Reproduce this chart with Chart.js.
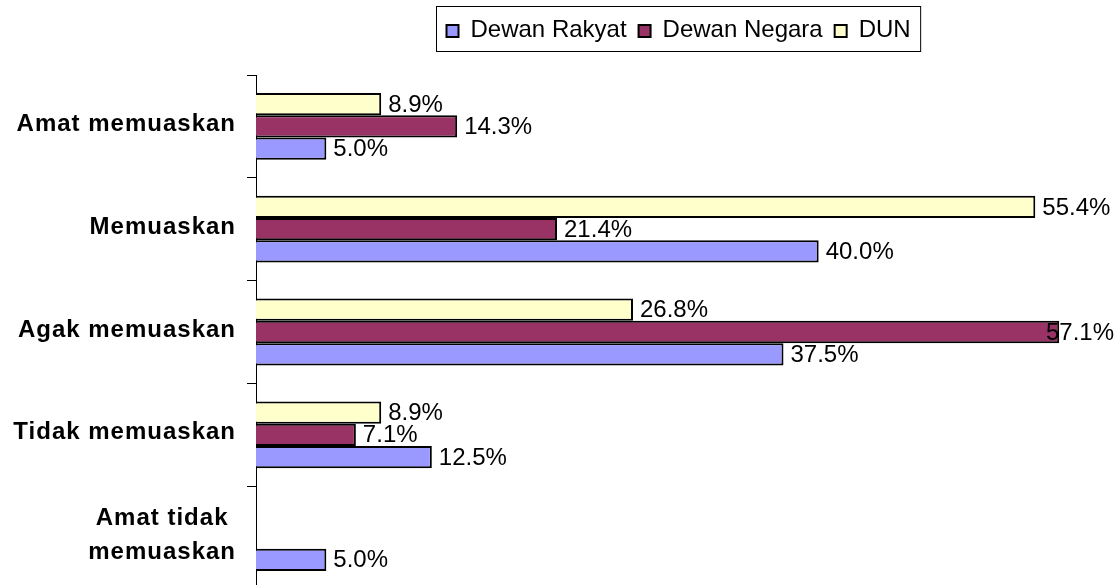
<!DOCTYPE html>
<html>
<head>
<meta charset="utf-8">
<script src="https://cdn.jsdelivr.net/npm/chart.js@4.4.0/dist/chart.umd.min.js"></script>
<style>
  html, body { margin: 0; padding: 0; background: #fff; overflow: hidden; }
  #wrap { width: 1120px; height: 590px; }
</style>
</head>
<body>
<div id="wrap"><canvas id="ratingChart" width="1120" height="590"></canvas></div>
<script>
// categories top to bottom
const categories = ['Amat memuaskan', 'Memuaskan', 'Agak memuaskan', 'Tidak memuaskan', ['Amat tidak', 'memuaskan']];

// percentages
const dewanRakyat = [5.0, 40.0, 37.5, 12.5, 5.0];
const dewanNegara = [14.3, 21.4, 57.1, 7.1, null];
const dun = [8.9, 55.4, 26.8, 8.9, null];

const xMax = 60;

// DUN sits on top of each group, Dewan Rakyat at the bottom
const datasets = [
  { label: 'DUN', data: dun, backgroundColor: '#FFFFCC', legendOrder: 2 },
  { label: 'Dewan Negara', data: dewanNegara, backgroundColor: '#993366', legendOrder: 1 },
  { label: 'Dewan Rakyat', data: dewanRakyat, backgroundColor: '#9999FF', legendOrder: 0 }
].map(ds => ({
  ...ds,
  borderColor: '#000',
  borderWidth: 2,
  categoryPercentage: 0.65,
  barPercentage: 1.0
}));

// bar value labels, pushed back inside the canvas when they would run off
const valueLabels = {
  id: 'valueLabels',
  afterDatasetsDraw(chart) {
    const ctx = chart.ctx;
    ctx.save();
    ctx.font = '24px "Liberation Sans", Arial, sans-serif';
    ctx.fillStyle = '#000';
    ctx.textBaseline = 'middle';
    ctx.textAlign = 'left';
    chart.data.datasets.forEach((ds, i) => {
      const meta = chart.getDatasetMeta(i);
      meta.data.forEach((el, j) => {
        const v = ds.data[j];
        if (v === null || v === undefined) return;
        const txt = v.toFixed(1) + '%';
        const w = ctx.measureText(txt).width;
        let x = el.x + 7;
        if (x + w > 1114) x = 1114 - w;
        ctx.fillText(txt, x, el.y + 1);
      });
    });
    ctx.restore();
  }
};

// bold category names, multi-line ones centred on each other
const categoryLabels = {
  id: 'categoryLabels',
  afterDraw(chart) {
    const ctx = chart.ctx;
    const yScale = chart.scales.y;
    const right = 236;
    ctx.save();
    ctx.font = 'bold 24px "Liberation Sans", Arial, sans-serif';
    ctx.letterSpacing = '1px';
    ctx.fillStyle = '#000';
    ctx.textBaseline = 'middle';
    ctx.textAlign = 'center';
    categories.forEach((cat, i) => {
      const lines = Array.isArray(cat) ? cat : [cat];
      const widths = lines.map(l => ctx.measureText(l).width);
      const maxW = Math.max(...widths);
      const cx = right - maxW / 2;
      const cy = yScale.getPixelForValue(i) - 2;
      const lh = 34;
      lines.forEach((l, k) => {
        ctx.fillText(l, cx, cy + (k - (lines.length - 1) / 2) * lh);
      });
    });
    ctx.restore();
  }
};

// boxed legend centred over the plot area
const boxLegend = {
  id: 'boxLegend',
  afterDraw(chart) {
    const ctx = chart.ctx;
    const area = chart.chartArea;
    const items = chart.data.datasets.slice().sort((a, b) => a.legendOrder - b.legendOrder);
    ctx.save();
    ctx.font = '24px "Liberation Sans", Arial, sans-serif';
    const pad = 10, mark = 12, gap = 12;
    const widths = items.map(it => ctx.measureText(it.label).width);
    let total = pad * 2 + items.length * (mark + gap) + widths.reduce((a, b) => a + b, 0) + gap * (items.length - 1);
    const left = Math.round((area.left + area.right) / 2 - total / 2) + 0.5;
    const top = 6.5, h = 45;
    ctx.strokeStyle = '#000';
    ctx.lineWidth = 1;
    ctx.strokeRect(left, top, total, h);
    let x = left + pad;
    const baseY = top + h / 2;
    ctx.textBaseline = 'middle';
    ctx.textAlign = 'left';
    items.forEach((it, i) => {
      ctx.fillStyle = it.backgroundColor;
      ctx.fillRect(x, baseY - 4, mark, mark);
      ctx.strokeStyle = '#000';
      ctx.lineWidth = 2;
      ctx.strokeRect(x, baseY - 4, mark, mark);
      x += mark + gap;
      ctx.fillStyle = '#000';
      ctx.fillText(it.label, x, baseY + 1);
      x += widths[i] + gap;
    });
    ctx.restore();
  }
};

new Chart(document.getElementById('ratingChart').getContext('2d'), {
  type: 'bar',
  data: { labels: categories, datasets: datasets },
  options: {
    indexAxis: 'y',
    responsive: false,
    animation: false,
    layout: { padding: { top: 75, right: 20, bottom: 1, left: 0 } },
    plugins: {
      legend: { display: false },
      tooltip: { enabled: false }
    },
    scales: {
      x: {
        display: false,
        min: 0,
        max: xMax
      },
      y: {
        afterFit: s => { s.width = 256; },
        ticks: { display: false },
        grid: {
          offset: true,
          drawOnChartArea: false,
          drawTicks: true,
          tickLength: 9,
          color: '#000',
          lineWidth: 1
        },
        border: { display: true, color: '#000', width: 1 }
      }
    }
  },
  plugins: [valueLabels, categoryLabels, boxLegend]
});
</script>
</body>
</html>
